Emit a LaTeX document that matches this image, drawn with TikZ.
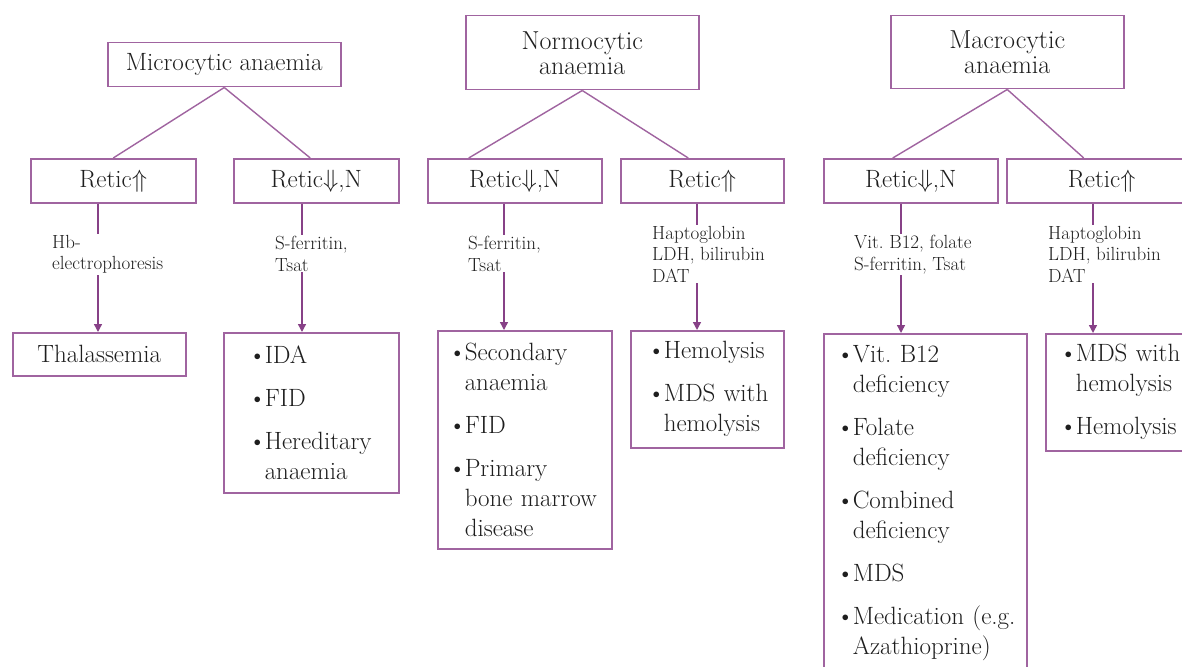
\RequirePackage{fix-cm}
\documentclass[tikz,border=0pt]{standalone}
\usetikzlibrary{arrows.meta}
\definecolor{boxc}{RGB}{160,100,160}
\definecolor{arrc}{RGB}{135,65,135}
\definecolor{txtc}{RGB}{30,30,30}
\newcommand{\mybul}[1]{\mbox{\kern-1.5pt\textbullet\kern-1.5pt#1}}
\newcommand{\mycont}[1]{\mbox{\kern-1.5pt\phantom{\textbullet}\kern-1.5pt#1}}
\tikzset{
 headbox/.style={draw=boxc, line width=1.5pt, inner sep=0pt, text=txtc,
   font=\fontsize{25}{25}\selectfont, align=center, anchor=north west},
 resbox/.style={draw=boxc, line width=1.5pt, inner ysep=0pt, text=txtc,
   font=\fontsize{25}{30}\selectfont, align=left, anchor=north west},
 lab/.style={fill=white, inner sep=1pt, text=txtc,
   font=\fontsize{19}{21.5}\selectfont, align=left, anchor=north west},
 tline/.style={draw=boxc, line width=1.4pt},
 arr/.style={draw=arrc, line width=1.4pt, -{Triangle[length=8pt,width=8pt]}},
}
\begin{document}
\frenchspacing
\begin{tikzpicture}[x=1pt,y=-1pt]
\useasboundingbox (0,0) rectangle (1182,666);
\clip (0,0) rectangle (1182,666);
\fill[white] (0,0) rectangle (1182,666);

% top boxes
\node[headbox, minimum width=233pt, minimum height=44pt] (mic) at (107,42) {Microcytic anaemia};
\node[headbox, minimum width=233pt, minimum height=74pt, font=\fontsize{26}{25}\selectfont] (nor) at (465,15) {Normocytic\\anaemia};
\node[headbox, minimum width=233pt, minimum height=73pt, font=\fontsize{26}{25}\selectfont] (mac) at (890,15) {Macrocytic\\anaemia};

% retic boxes
\node[headbox, minimum width=165pt, minimum height=44pt] (ra) at (30,158) {Retic$\Uparrow$};
\node[headbox, minimum width=165pt, minimum height=44pt] (rb) at (233,158) {Retic$\Downarrow$,N};
\node[headbox, minimum width=174pt, minimum height=44pt] (rc) at (427,158) {Retic$\Downarrow$,N};
\node[headbox, minimum width=163pt, minimum height=44pt] (rd) at (620,158) {Retic$\Uparrow$};
\node[headbox, minimum width=174pt, minimum height=44pt] (re) at (823,158) {Retic$\Downarrow$,N};
\node[headbox, minimum width=190pt, minimum height=44pt] (rf) at (1006,158) {Retic$\Uparrow$};

% result boxes
\node[headbox, minimum width=173pt, minimum height=43pt] (thal) at (12,332) {Thalassemia};
\node[resbox, minimum width=175pt, minimum height=160pt, inner xsep=26pt, text width=123pt] (resb) at (223,332)
 {\mybul{IDA}\\[13pt]\mybul{FID}\\[13pt]\mybul{Hereditary}\\\mycont{anaemia}};
\node[resbox, minimum width=174pt, minimum height=218pt, inner xsep=12pt, text width=150pt] (resc) at (437,330)
 {\mybul{Secondary}\\\mycont{anaemia}\\[13pt]\mybul{FID}\\[13pt]\mybul{Primary}\\\mycont{bone marrow}\\\mycont{disease}};
\node[resbox, minimum width=153pt, minimum height=117pt, inner xsep=18pt, text width=117pt] (resd) at (630,330)
 {\mybul{Hemolysis}\\[13pt]\mybul{MDS with}\\\mycont{hemolysis}};
\node[resbox, minimum width=203pt, minimum height=338pt, inner xsep=14pt, text width=175pt] (rese) at (823,333)
 {\mybul{Vit. B12}\\\mycont{deficiency}\\[13pt]\mybul{Folate}\\\mycont{deficiency}\\[13pt]\mybul{Combined}\\\mycont{deficiency}\\[13pt]\mybul{MDS}\\[13pt]\mybul{Medication (e.g.}\\\mycont{Azathioprine)}};
\node[resbox, minimum width=160pt, minimum height=117pt, inner xsep=15pt, text width=130pt] (resf) at (1045,333)
 {\mybul{MDS with}\\\mycont{hemolysis}\\[13pt]\mybul{Hemolysis}};

% branch lines
\draw[tline] (mic.south) -- (ra.north);
\draw[tline] (mic.south) -- ([xshift=-6pt]rb.north);
\draw[tline] (nor.south) -- ([xshift=-46pt]rc.north);
\draw[tline] (nor.south) -- ([xshift=-14pt]rd.north);
\draw[tline] (mac.south) -- ([xshift=-18pt]re.north);
\draw[tline] (mac.south) -- ([xshift=-18pt]rf.north);

% vertical arrows
\coordinate (xa) at (98,0);
\coordinate (xb) at (302,0);
\coordinate (xc) at (504,0);
\coordinate (xd) at (697,0);
\coordinate (xe) at (901,0);
\coordinate (xf) at (1093,0);
\draw[arr] (ra.south -| xa) -- (thal.north -| xa);
\draw[arr] (rb.south -| xb) -- (resb.north -| xb);
\draw[arr] (rc.south -| xc) -- (resc.north -| xc);
\draw[arr] (rd.south -| xd) -- (resd.north -| xd);
\draw[arr] (re.south -| xe) -- (rese.north -| xe);
\draw[arr] (rf.south -| xf) -- (resf.north -| xf);

% labels
\node[lab] (la) at (51,234) {Hb-\\electrophoresis};
\node[lab] (lb) at (274,235) {S-ferritin,\\Tsat};
\node[lab] (lc) at (467,235) {S-ferritin,\\Tsat};
\node[lab] (ld) at (651,225) {Haptoglobin\\LDH, bilirubin\\DAT};
\node[lab] (le) at (853,234) {Vit. B12, folate\\S-ferritin, Tsat};
\node[lab] (lf) at (1047,225) {Haptoglobin\\LDH, bilirubin\\DAT};
\end{tikzpicture}
\end{document}
